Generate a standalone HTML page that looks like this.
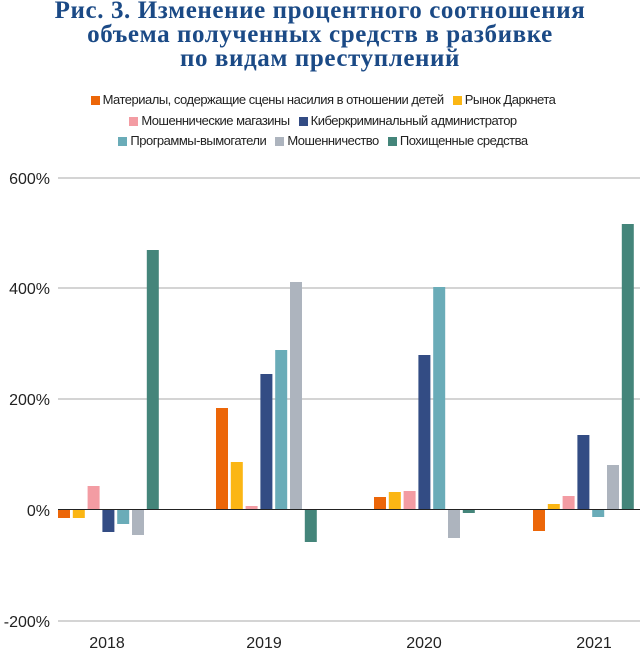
<!DOCTYPE html>
<html><head><meta charset="utf-8"><style>
body{margin:0;background:#fff;width:640px;height:650px;overflow:hidden;font-family:"Liberation Sans",sans-serif}
.t{position:absolute;left:0;width:640px;text-align:center;font-family:"Liberation Serif",serif;font-weight:bold;color:#1b4a86;font-size:25px;line-height:24px;top:-1px;letter-spacing:0.6px}
.lg{position:absolute;left:0;width:640px;text-align:center;font-size:13px;color:#222;line-height:20.5px;top:90px;letter-spacing:-0.5px}
.lg i{display:inline-block;width:9px;height:9px;margin:0 3px 0 6px;vertical-align:-1px}
</style></head><body>
<div class="t">Рис. 3. Изменение процентного соотношения<br>объема полученных средств в разбивке<br>по видам преступлений</div>
<div class="lg"><i style="background:#ec6608"></i>Материалы, содержащие сцены насилия в отношении детей <i style="background:#fbb614"></i>Рынок Даркнета<br><i style="background:#f39ca3"></i>Мошеннические магазины <i style="background:#334c84"></i>Киберкриминальный администратор<br><i style="background:#6aacb8"></i>Программы-вымогатели <i style="background:#adb4be"></i>Мошенничество <i style="background:#44857a"></i>Похищенные средства</div>
<svg width="640" height="650" style="position:absolute;left:0;top:0">
<g stroke="#aaa" stroke-width="1"><line x1="58" x2="640" y1="178" y2="178"/><line x1="58" x2="640" y1="288" y2="288"/><line x1="58" x2="640" y1="399" y2="399"/><line x1="58" x2="640" y1="621" y2="621"/></g>
<g font-size="16" fill="#222" text-anchor="end"><text x="50" y="184">600%</text><text x="50" y="294">400%</text><text x="50" y="405">200%</text><text x="50" y="516">0%</text><text x="50" y="627">-200%</text></g>
<g font-size="16" fill="#222" text-anchor="middle"><text x="107" y="648">2018</text><text x="264" y="648">2019</text><text x="424" y="648">2020</text><text x="594" y="648">2021</text></g>
<g id="b"></g>
<line x1="58" x2="640" y1="509.5" y2="509.5" stroke="#222" stroke-width="1"/>
</svg>
<script>
var c=["#ec6608","#fbb614","#f39ca3","#334c84","#6aacb8","#adb4be","#44857a"];
var d=[[518,518,486,532,524,535,250],[408,462,506,374,350,282,542],[497,492,491,355,287,538,513],[531,504,496,435,517,465,224]];
var s=[58,216,374,533],h="";
d.forEach(function(g,i){g.forEach(function(v,j){var x=s[i]+j*14.8,y=Math.min(v,509.5),hh=Math.abs(v-509.5);h+='<rect x="'+x.toFixed(1)+'" y="'+y+'" width="12" height="'+hh+'" fill="'+c[j]+'"/>';});});
document.getElementById("b").innerHTML=h;
</script>
</body></html>
